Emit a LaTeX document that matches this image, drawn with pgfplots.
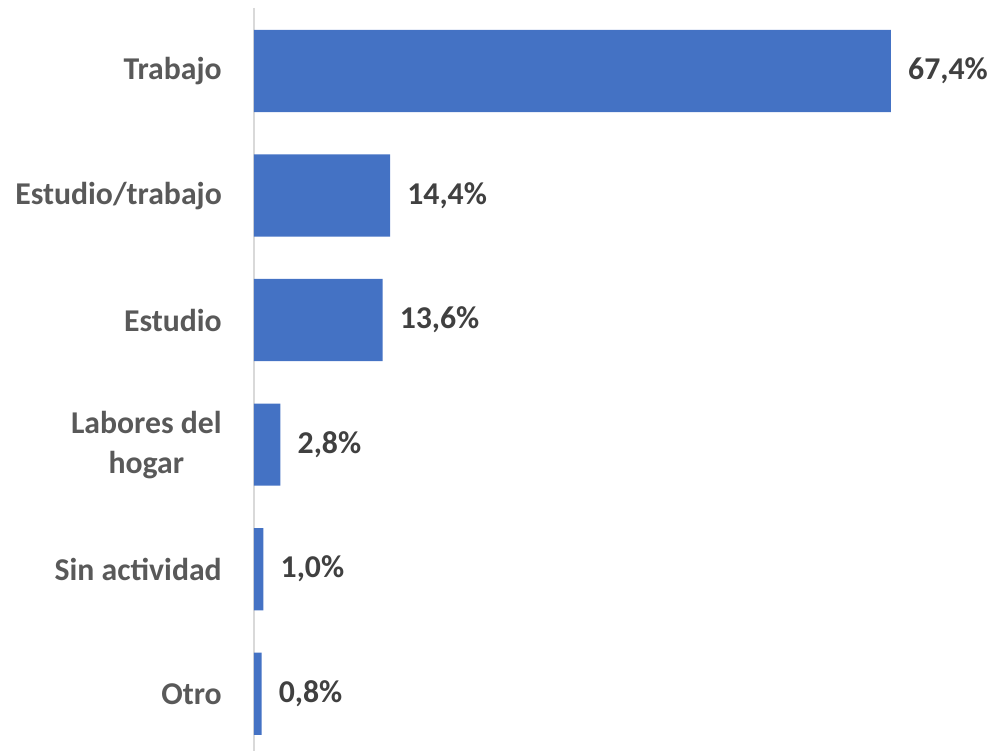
\documentclass[border=0pt]{standalone}
\usepackage{fontspec}
\setmainfont{Carlito}
\usepackage{pgfplots}
\pgfplotsset{compat=1.18}
\definecolor{barblue}{HTML}{4472C4}
\definecolor{labgray}{HTML}{595959}
\definecolor{valgray}{HTML}{404040}
\definecolor{axgray}{HTML}{D9D9D9}
\begin{document}
\begin{tikzpicture}
\begin{axis}[
    name=ax, at={(0,0)}, anchor=south west,
    scale only axis, width=496.1pt, height=557.25pt,
    xbar, bar width=0.66,
    xmin=0, xmax=70, ymin=-0.506, ymax=5.46, y dir=reverse,
    ytick={0,1,2,3,4,5},
    yticklabels={Trabajo,Estudio/trabajo,Estudio,{Labores del\\hogar},Sin actividad,Otro},
    yticklabel style={font=\fontsize{23.8}{30}\selectfont\bfseries, text=labgray, align=center, inner sep=0pt, xshift=-24pt},
    major tick length=0pt,
    axis x line=none,
    axis y line*=left, y axis line style={draw=axgray, line width=1.2pt, -},
    xtick=\empty,
    clip=false,
    point meta=x,
    nodes near coords={\pgfmathprintnumber[fixed,fixed zerofill,precision=1,use comma,assume math mode=true]{\pgfplotspointmeta}\%},
    nodes near coords style={font=\fontsize{23.8}{30}\selectfont\bfseries, text=valgray, anchor=west, inner sep=0pt, xshift=12.75pt},
  ]
  \addplot[fill=barblue, draw=none] coordinates {(67.4,0) (14.4,1) (13.6,2) (2.8,3) (1.0,4) (0.8,5)};
\end{axis}
\pgfresetboundingbox
\path ([xshift=-190.5pt]ax.south west) rectangle ([xshift=57.4pt,yshift=6pt]ax.north east);
\end{tikzpicture}
\end{document}
